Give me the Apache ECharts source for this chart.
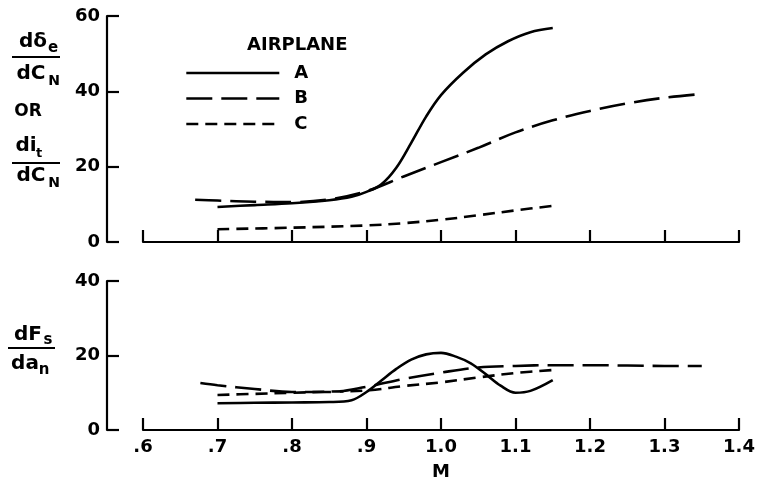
<!DOCTYPE html>
<html>
<head>
<meta charset="utf-8">
<script src="https://cdn.jsdelivr.net/npm/echarts@6/dist/echarts.min.js"></script>
<style>html,body{margin:0;padding:0;background:#fff}#c{width:759px;height:486px}</style>
</head>
<body>
<div id="c"></div>
<script>
// ---- data ----
const machTicks = [0.6, 0.7, 0.8, 0.9, 1.0, 1.1, 1.2, 1.3, 1.4];
const topTicks = [0, 20, 40, 60];
const bottomTicks = [0, 20, 40];

// upper panel: d(delta_e)/dC_N or di_t/dC_N
const topA_M = [0.70, 0.75, 0.80, 0.85, 0.88, 0.90, 0.92, 0.94, 0.96, 0.98, 1.00, 1.03, 1.06, 1.09, 1.12, 1.15];
const topA_V = [9.3, 9.8, 10.3, 11.1, 12.0, 13.3, 15.3, 19.7, 26.3, 33.3, 39.0, 45.0, 49.8, 53.3, 55.7, 56.8];
const topB_M = [0.67, 0.70, 0.75, 0.80, 0.85, 0.90, 0.95, 1.00, 1.05, 1.10, 1.15, 1.20, 1.25, 1.30, 1.35];
const topB_V = [11.2, 11.0, 10.7, 10.6, 11.3, 13.5, 17.4, 21.2, 25.0, 29.1, 32.3, 34.8, 36.8, 38.3, 39.3];
const topC_M = [0.70, 0.80, 0.90, 0.95, 1.00, 1.05, 1.10, 1.15];
const topC_V = [3.4, 3.8, 4.4, 5.0, 5.9, 7.1, 8.4, 9.6];

// lower panel: dF_s/da_n
const botA_M = [0.70, 0.75, 0.80, 0.85, 0.88, 0.90, 0.92, 0.94, 0.96, 0.98, 1.00, 1.02, 1.04, 1.06, 1.08, 1.10, 1.12, 1.15];
const botA_V = [7.2, 7.3, 7.4, 7.5, 8.0, 10.2, 13.3, 16.4, 18.9, 20.3, 20.7, 19.7, 17.9, 15.0, 11.9, 10.0, 10.5, 13.4];
const botB_M = [0.677, 0.70, 0.75, 0.80, 0.85, 0.90, 0.95, 1.00, 1.05, 1.10, 1.15, 1.20, 1.25, 1.30, 1.35];
const botB_V = [12.6, 12.0, 11.0, 10.2, 10.2, 11.6, 13.7, 15.4, 16.8, 17.2, 17.4, 17.4, 17.3, 17.2, 17.2];
const botC_M = [0.70, 0.75, 0.80, 0.85, 0.90, 0.95, 1.00, 1.05, 1.10, 1.15];
const botC_V = [9.4, 9.7, 10.0, 10.3, 10.6, 11.8, 12.8, 14.1, 15.3, 16.1];

const seriesNames = ['A', 'B', 'C'];

// ---- chart ----
const pair = (m, v) => m.map((x, i) => [x, v[i]]);
const FONT = 'DejaVu Sans';
const dashB = [26, 9];
const dashC = [12, 7];
const LW = 2.6;

const fmtM = v => {
  const t = Math.round(v * 10);
  return t < 10 ? '.' + t : (t / 10).toFixed(1);
};

const xBase = {
  type: 'value', min: machTicks[0], max: machTicks[machTicks.length - 1], interval: 0.1,
  splitLine: { show: false },
  axisLine: { onZero: false, lineStyle: { color: '#000', width: 2.2 } },
  axisTick: { inside: true, length: 12, lineStyle: { color: '#000', width: 2.2 } }
};
const yBase = {
  type: 'value', min: 0, interval: 20, offset: 36,
  splitLine: { show: false },
  axisLine: { show: true, lineStyle: { color: '#000', width: 2.2 } },
  axisTick: { show: true, inside: true, length: 12, lineStyle: { color: '#000', width: 2.2 } },
  axisLabel: { color: '#000', fontFamily: FONT, fontWeight: 'bold', fontSize: 18, margin: 7 }
};

const mk = (name, data, idx, dash) => ({
  name, type: 'line', xAxisIndex: idx, yAxisIndex: idx, data,
  symbol: 'none', smooth: 0.35, silent: true,
  lineStyle: { color: '#000', width: LW, type: dash || 'solid' },
  itemStyle: { color: '#000' }
});

const txt = (x, y, s, size, align) => ({
  type: 'text', x, y, silent: true,
  style: { text: s, fill: '#000', font: 'bold ' + size + 'px "' + FONT + '"', textAlign: align || 'center', textVerticalAlign: 'middle' }
});
const hline = (x1, x2, y) => ({
  type: 'line', silent: true, shape: { x1, y1: y, x2, y2: y }, style: { stroke: '#000', lineWidth: 2 }
});

const chart = echarts.init(document.getElementById('c'), null, { renderer: 'canvas' });
chart.setOption({
  animation: false,
  backgroundColor: '#fff',
  grid: [
    { left: 143, right: 20, top: 16, height: 226 },
    { left: 143, right: 20, top: 281, height: 149 }
  ],
  xAxis: [
    Object.assign({}, xBase, { gridIndex: 0, axisLabel: { show: false } }),
    Object.assign({}, xBase, {
      gridIndex: 1, name: 'M', nameLocation: 'middle', nameGap: 33,
      nameTextStyle: { color: '#000', fontFamily: FONT, fontWeight: 'bold', fontSize: 18 },
      axisLabel: { color: '#000', fontFamily: FONT, fontWeight: 'bold', fontSize: 18, margin: 8, formatter: fmtM }
    })
  ],
  yAxis: [
    Object.assign({}, yBase, { gridIndex: 0, max: topTicks[topTicks.length - 1] }),
    Object.assign({}, yBase, { gridIndex: 1, max: bottomTicks[bottomTicks.length - 1] })
  ],
  legend: {
    data: seriesNames, orient: 'vertical', left: 185, top: 64, padding: 0,
    itemWidth: 93, itemHeight: 14, itemGap: 7.5, selectedMode: false,
    itemStyle: { opacity: 0, borderWidth: 0 },
    lineStyle: { width: LW },
    textStyle: { color: '#000', fontFamily: FONT, fontWeight: 'bold', fontSize: 18, padding: [0, 0, 0, 10] }
  },
  graphic: [
    txt(247, 45, 'AIRPLANE', 18, 'left'),
    // upper y title
    txt(33, 42, 'dδ', 20), txt(53, 48, 'e', 15),
    hline(12, 60, 57),
    txt(31, 74, 'dC', 20), txt(54, 81, 'N', 14),
    txt(28, 112, 'OR', 17),
    txt(26, 146, 'di', 20), txt(39, 154, 't', 13),
    hline(12, 60, 163),
    txt(31, 176, 'dC', 20), txt(54, 183, 'N', 14),
    // lower y title
    txt(28, 335, 'dF', 20), txt(48, 340, 's', 15),
    hline(8, 55, 348),
    txt(25, 364, 'da', 20), txt(44, 370, 'n', 15)
  ],
  series: [
    mk('A', pair(topA_M, topA_V), 0),
    mk('B', pair(topB_M, topB_V), 0, dashB),
    mk('C', pair(topC_M, topC_V), 0, dashC),
    mk('A', pair(botA_M, botA_V), 1),
    mk('B', pair(botB_M, botB_V), 1, dashB),
    mk('C', pair(botC_M, botC_V), 1, dashC)
  ]
});
</script>
</body>
</html>
